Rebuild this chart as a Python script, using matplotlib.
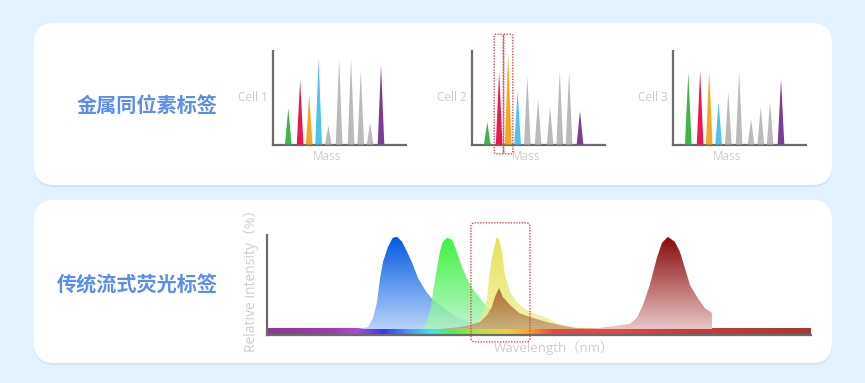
import matplotlib.pyplot as plt
import numpy as np
from matplotlib.patches import FancyBboxPatch
from matplotlib.colors import LinearSegmentedColormap

plt.rcParams['font.family'] = ['Open Sans', 'Noto Sans CJK SC', 'DejaVu Sans']

# ---------------- data ----------------
titles = ['金属同位素标签', '传统流式荧光标签']

# mass cytometry panels: peak positions (mass, arbitrary) and heights (0-1)
cell_names = ['Cell 1', 'Cell 2', 'Cell 3']
mass_pos = [1.15, 2.04, 2.72, 3.43, 4.16, 4.97, 5.87, 6.60, 7.30, 8.12]
peak_colors = ['#3db54a', '#e8194f', '#f6a623', '#4cc3e8',
               '#bababa', '#bababa', '#bababa', '#bababa', '#bababa', '#7d3c98']
cell1 = [0.39, 0.69, 0.525, 0.92, 0.20, 0.92, 0.92, 0.79, 0.23, 0.85]
cell2 = [0.24, 0.775, 0.97, 0.57, 0.73, 0.48, 0.40, 0.79, 0.78, 0.36]
cell3 = [0.77, 0.79, 0.785, 0.455, 0.56, 0.78, 0.27, 0.40, 0.455, 0.70]
cells = [cell1, cell2, cell3]

# fluorescence emission spectra (wavelength nm, relative intensity %)
blue_nm = [425, 433.5, 437.7, 441, 443.5, 446, 450, 454, 457.5, 461.6, 465.8, 470,
           475, 482, 487, 495.5, 507, 520, 538.5, 559]
blue_pct = [0, 2, 12, 29, 55, 73, 89, 99, 100, 95, 84, 72, 55, 40, 32, 23, 13, 6.5, 2, 0]

green_nm = [478.2, 482.3, 485.6, 487.3, 490.6, 493, 495.6, 499, 503, 507, 511, 515.4,
            520.4, 526, 532, 537, 551, 565, 592, 625]
green_pct = [0, 7.6, 23, 40, 66, 84, 95, 99, 97, 84, 68, 55, 43, 34, 24, 17, 7.6, 4.3, 1, 0]

yellow_nm = [505.5, 519.5, 524.5, 528.6, 532, 533.6, 536, 538.6, 540, 542, 544.3, 546.8,
             551, 556.8, 565, 573.3, 581.6, 590, 600.6, 614.6, 642]
yellow_pct = [0, 2, 6.5, 17, 34, 55, 77, 92, 100, 97, 84, 59, 40, 29, 20, 16, 12, 6.5,
              2, 1, 0]

brown_nm = [493, 509.6, 518, 526, 532, 536, 538.6, 542, 545, 551, 559, 570, 581.6, 592,
            606, 625]
brown_pct = [0, 2, 4.3, 7.6, 15, 24, 35, 44.5, 35, 26, 17, 12, 7.6, 4.3, 1, 0]

red_nm = [613, 623.7, 650, 656, 661, 666.7, 672.5, 676.7, 681.6, 687.4, 691.5, 695.7,
          699.8, 705.6, 712, 718, 718.2]
red_pct = [0, 1, 5.4, 12, 26, 48, 77, 93.5, 100, 94.6, 84, 66, 48, 35, 23, 17.4, 0]

# visible spectrum bar along the wavelength axis
spec_nm = [350, 404.6, 424.4, 446, 465.8, 484.8, 503.8, 526, 548.5, 567.5, 573.3,
           586.5, 642, 697, 800]
spec_colors = ['#8a3a94', '#9a40a8', '#b048d0', '#3838e8', '#4a90f0', '#40e0f0',
               '#50f050', '#b8e040', '#f0d040', '#f8a030', '#ff7a30', '#f04545',
               '#e84444', '#c83c3c', '#a83838']

BG = '#e3f2fd'
TITLE_BLUE = '#5b8def'
LABEL_GRAY = '#cdcdcd'
AXIS_GRAY = '#6b6b6b'
BOX_RED = '#e04545'

W, H = 865, 383
fig = plt.figure(figsize=(W / 100, H / 100), dpi=100)
fig.patch.set_facecolor(BG)

# background layer in pixel coordinates (cards + titles)
bg = fig.add_axes([0, 0, 1, 1], zorder=-1)
bg.set_xlim(0, W)
bg.set_ylim(H, 0)
bg.axis('off')
for top, bottom in [(23, 185), (200, 363)]:
    shadow = FancyBboxPatch((34, top + 2), 798, bottom - top,
                            boxstyle='round,pad=0,rounding_size=20',
                            fc='#d2e5f8', ec='none')
    card = FancyBboxPatch((34, top), 798, bottom - top,
                          boxstyle='round,pad=0,rounding_size=20',
                          fc='white', ec='none')
    bg.add_patch(shadow)
    bg.add_patch(card)

bg.text(147, 105, titles[0], color=TITLE_BLUE, fontsize=14.5, fontweight='bold',
        family=['Noto Sans CJK SC'], ha='center', va='center')
bg.text(137.5, 285, titles[1], color=TITLE_BLUE, fontsize=14.5, fontweight='bold',
        family=['Noto Sans CJK SC'], ha='center', va='center')


def style_axes(ax):
    ax.patch.set_visible(False)
    for s in ['top', 'right']:
        ax.spines[s].set_visible(False)
    for s in ['left', 'bottom']:
        ax.spines[s].set_color(AXIS_GRAY)
        ax.spines[s].set_linewidth(1.6)
    ax.set_xticks([])
    ax.set_yticks([])


# ---------------- mass cytometry panels ----------------
lefts = [273, 472, 673]
half_w = 0.25
for i, left in enumerate(lefts):
    ax = fig.add_axes([left / W, (H - 144.5) / H, 133 / W, 93.5 / H])
    style_axes(ax)
    ax.set_xlim(0, 10)
    ax.set_ylim(0, 1)
    for x, h, c in zip(mass_pos, cells[i], peak_colors):
        ax.fill([x - half_w, x, x + half_w], [0, h, 0], color=c, lw=0, zorder=3)
    ax.text(-0.04, 0.5, cell_names[i], transform=ax.transAxes, ha='right',
            va='center', fontsize=8.5, color=LABEL_GRAY)
    ax.text(0.41, -0.13, 'Mass', transform=ax.transAxes, ha='center',
            va='center', fontsize=8.5, color=LABEL_GRAY)
    if i == 1:
        # highlight the two overlapping channels
        for x in mass_pos[1:3]:
            box = FancyBboxPatch((x - 0.37, -0.10), 0.72, 1.28,
                                 boxstyle='round,pad=0,rounding_size=0.15',
                                 mutation_aspect=0.143, fc='none', ec=BOX_RED,
                                 lw=1, ls=(0, (1, 1)), clip_on=False, zorder=10)
            ax.add_patch(box)

# ---------------- fluorescence panel ----------------
ax = fig.add_axes([267 / W, (H - 335) / H, 544 / W, 100 / H])
style_axes(ax)


def gradient_fill(xs, ys, top, bottom, alpha, z):
    cmap = LinearSegmentedColormap.from_list('g', [bottom, top])
    img = ax.imshow(np.linspace(0, 1, 256)[:, None], extent=(min(xs), max(xs), 0, max(ys)),
                    origin='lower', aspect='auto', cmap=cmap, alpha=alpha, zorder=z)
    poly = ax.fill(xs, ys, fc='none', ec='none', zorder=z)[0]
    img.set_clip_path(poly)


gradient_fill(blue_nm, blue_pct, '#0058e0', '#b8d4fa', 1.0, 3)
gradient_fill(green_nm, green_pct, '#10f010', '#b0f4c0', 0.8, 4)
gradient_fill(yellow_nm, yellow_pct, '#dcd81c', '#f0f09a', 0.75, 5)
gradient_fill(brown_nm, brown_pct, '#a04e18', '#c0a070', 0.8, 6)
gradient_fill(red_nm, red_pct, '#880808', '#e8c6c6', 1.0, 7)

spec_pos = [(v - spec_nm[0]) / (spec_nm[-1] - spec_nm[0]) for v in spec_nm]
spec_cmap = LinearSegmentedColormap.from_list('spec', list(zip(spec_pos, spec_colors)))
ax.imshow(np.linspace(0, 1, 512)[None, :], extent=(350, 800, -5.5, 0), aspect='auto',
          cmap=spec_cmap, zorder=2)

ax.set_xlim(350, 800)
ax.set_ylim(-6.5, 102)

box = FancyBboxPatch((518.7, -14), 48.8, 129.2,
                     boxstyle='round,pad=0,rounding_size=3.3', mutation_aspect=1.315,
                     fc='none', ec=BOX_RED, lw=1, ls=(0, (1, 1)), clip_on=False, zorder=10)
ax.add_patch(box)

ax.text(-0.029, 0.575, 'Relative intensity（%）', transform=ax.transAxes, rotation=90,
        ha='center', va='center', fontsize=10, color=LABEL_GRAY)
ax.text(0.528, -0.13, 'Wavelength（nm）', transform=ax.transAxes, ha='center',
        va='center', fontsize=9.5, color=LABEL_GRAY)

fig.savefig('out.png', dpi=100, facecolor=BG)
